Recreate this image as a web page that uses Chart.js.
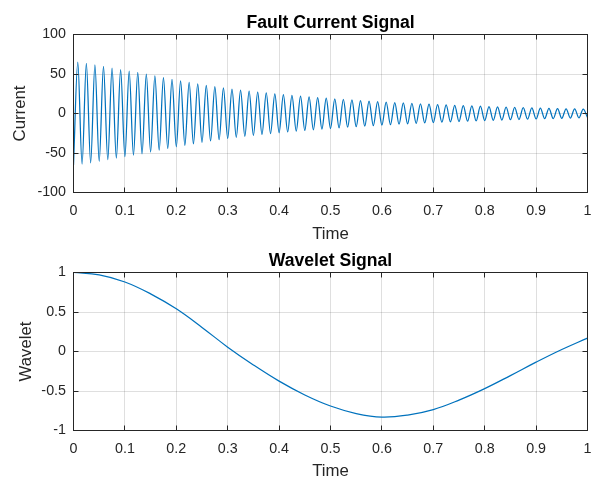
<!DOCTYPE html>
<html><head><meta charset="utf-8">
<script src="https://cdn.jsdelivr.net/npm/chart.js@4"></script>
<style>
html,body{margin:0;padding:0;background:#fff;}
#wrap{position:relative;width:593px;height:481px;overflow:hidden;background:#fff;}
canvas{position:absolute;left:0;}
</style></head><body>
<div id="wrap">
<canvas id="c1" width="593" height="250" style="top:0px"></canvas>
<canvas id="c2" width="593" height="231" style="top:250px"></canvas>
</div>
<script>
// ---- data ----
const timeTicks = [0, 0.1, 0.2, 0.3, 0.4, 0.5, 0.6, 0.7, 0.8, 0.9, 1];
const currentTicks = [-100, -50, 0, 50, 100];
const waveletTicks = [-1, -0.5, 0, 0.5, 1];

// fault current: 60 Hz oscillation, extrema read per half cycle
const cyclesPerSecond = 60;
const troughValues = [-65.5, -64, -62.5, -60.5, -58.5, -56.5, -54.5, -52.7, -51, -48.8,
  -46.5, -44.3, -42.2, -40.2, -38.3, -36.5, -34.8, -33.2, -31.6, -30.1,
  -28.9, -27.7, -26.5, -25.4, -24.4, -23.4, -22.4, -21.5, -20.6, -19.8,
  -19, -18.2, -17.4, -16.7, -16, -15.4, -14.8, -14.2, -13.6, -13.1,
  -12.5, -12, -11.5, -11, -10.6, -10.2, -9.8, -9.4, -9, -8.6,
  -8.3, -7.9, -7.6, -7.2, -6.9, -6.6, -6.4, -6.1, -5.8, -5.5, -5.0];
const peakValues = [65, 63.5, 61.5, 59.5, 57.5, 55.5, 53.5, 52, 50, 47.6,
  45.4, 43.3, 41.2, 39.3, 37.4, 35.7, 34, 32.4, 30.8, 29.5,
  28.3, 27.1, 26, 24.9, 23.9, 22.9, 22, 21.1, 20.2, 19.4,
  18.6, 17.8, 17.1, 16.4, 15.7, 15.1, 14.5, 13.9, 13.4, 12.8,
  12.3, 11.8, 11.3, 10.8, 10.4, 10, 9.6, 9.2, 8.8, 8.4,
  8.1, 7.7, 7.4, 7.1, 6.8, 6.5, 6.2, 6, 5.7, 5.4];

const waveletTimes = [0, 0.05, 0.1, 0.15, 0.2, 0.25, 0.3, 0.35, 0.4, 0.45, 0.5,
  0.55, 0.6, 0.65, 0.7, 0.75, 0.8, 0.85, 0.9, 0.95, 1];
const waveletValues = [1.0, 0.97, 0.88, 0.73, 0.54, 0.305, 0.055, -0.17, -0.375, -0.55, -0.69,
  -0.785, -0.83, -0.805, -0.735, -0.615, -0.47, -0.305, -0.135, 0.025, 0.17];

// ---- build point lists ----
const faultPoints = [];
for (let k = 0; k < troughValues.length; k++) {
  faultPoints.push({x: k / cyclesPerSecond, y: troughValues[k]});
  if (k < peakValues.length) faultPoints.push({x: (k + 0.5) / cyclesPerSecond, y: peakValues[k]});
}
const waveletPoints = waveletTimes.map((t, i) => ({x: t, y: waveletValues[i]}));

const FONT = '"Liberation Sans", Arial, Helvetica, sans-serif';
const TXT = '#262626';

const frame = {
  id: 'frame',
  afterDraw(chart, args, opts) {
    const {ctx, chartArea: a, scales: {x, y}} = chart;
    const al = p => Math.round(p - 0.5) + 0.5;
    ctx.save();
    ctx.strokeStyle = TXT; ctx.lineWidth = 1;
    ctx.beginPath();
    x.ticks.forEach(t => {
      const px = al(x.getPixelForValue(t.value));
      ctx.moveTo(px, a.bottom); ctx.lineTo(px, a.bottom - 5);
      ctx.moveTo(px, a.top); ctx.lineTo(px, a.top + 5);
    });
    y.ticks.forEach(t => {
      const py = al(y.getPixelForValue(t.value));
      ctx.moveTo(a.left, py); ctx.lineTo(a.left + 5, py);
      ctx.moveTo(a.right, py); ctx.lineTo(a.right - 5, py);
    });
    ctx.stroke();
    ctx.strokeRect(a.left, a.top, a.right - a.left, a.bottom - a.top);
    ctx.fillStyle = '#000';
    ctx.font = 'bold 17.6px ' + FONT;
    ctx.textAlign = 'center';
    ctx.textBaseline = 'alphabetic';
    ctx.fillText(opts.text, (a.left + a.right) / 2, a.top - 6.5);
    ctx.restore();
  }
};

function makeChart(id, pts, yTicks, yTitle, title, padTop, xAxisH, xTitlePad, yTitlePad, mode) {
  const yMin = yTicks[0], yMax = yTicks[yTicks.length - 1];
  return new Chart(document.getElementById(id), {
    type: 'line',
    data: {datasets: [{data: pts, borderColor: '#0072BD', borderWidth: 1.25, pointRadius: 0,
      fill: false, cubicInterpolationMode: mode, tension: 0.4}]},
    options: {
      responsive: false, animation: false, devicePixelRatio: 1,
      layout: {padding: {top: padTop, left: 0, right: 5.5, bottom: 0}},
      plugins: {legend: {display: false}, tooltip: {enabled: false}, frame: {text: title}},
      scales: {
        x: {
          type: 'linear', min: timeTicks[0], max: timeTicks[timeTicks.length - 1],
          afterBuildTicks(s) { s.ticks = timeTicks.map(v => ({value: v})); },
          ticks: {padding: 10, color: TXT, font: {family: FONT, size: 14.3}, maxRotation: 0, autoSkip: false,
            callback: v => String(v)},
          grid: {color: 'rgba(38,38,38,0.15)', drawTicks: false, lineWidth: 1},
          border: {display: false},
          title: {display: true, text: 'Time', color: TXT, font: {family: FONT, size: 16.8},
            padding: {top: 0, bottom: xTitlePad}},
          afterFit(s) { s.height = xAxisH; s.paddingLeft = 0; s.paddingRight = 0; }
        },
        y: {
          type: 'linear', min: yMin, max: yMax,
          afterBuildTicks(s) { s.ticks = yTicks.map(v => ({value: v})); },
          ticks: {padding: 7.5, color: TXT, font: {family: FONT, size: 14.3}, autoSkip: false,
            callback: v => String(v)},
          grid: {color: 'rgba(38,38,38,0.15)', drawTicks: false, lineWidth: 1},
          border: {display: false},
          title: {display: true, text: yTitle, color: TXT, font: {family: FONT, size: 16.8},
            padding: {top: yTitlePad, bottom: 0}},
          afterFit(s) { s.width = 73.5; s.paddingTop = 0; s.paddingBottom = 0; }
        }
      }
    },
    plugins: [frame]
  });
}

makeChart('c1', faultPoints, currentTicks, 'Current', 'Fault Current Signal', 34.5, 57.5, 5.5, 10, 'monotone');
makeChart('c2', waveletPoints, waveletTicks, 'Wavelet', 'Wavelet Signal', 22.5, 50.5, 0, 16, 'default');
</script>
</body></html>
